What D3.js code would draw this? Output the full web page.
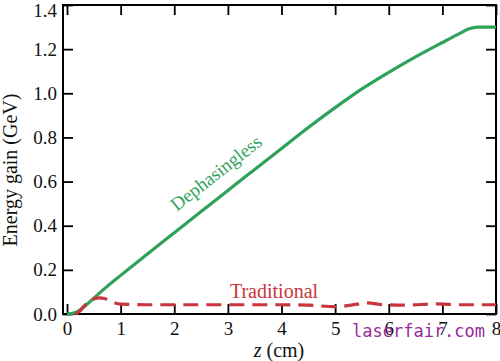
<!DOCTYPE html>
<html><head><meta charset="utf-8">
<script src="https://cdn.jsdelivr.net/npm/d3@7"></script>
<style>body{margin:0;background:#fff}svg{display:block}</style>
</head><body>
<script>
const xTicks = [0,1,2,3,4,5,6,7,8];
const yTicks = [0.0,0.2,0.4,0.6,0.8,1.0,1.2,1.4];
const greenZ = [0,0.1,0.2,0.3,0.4,0.5,0.7,1,1.5,2,2.5,3,3.5,4,4.5,5,5.5,6,6.5,7,7.3,7.5,7.65,8];
const greenE = [0,0.003,0.012,0.03,0.05,0.072,0.115,0.175,0.272,0.368,0.464,0.56,0.655,0.75,0.845,0.935,1.02,1.095,1.165,1.23,1.268,1.292,1.30,1.30];
const redZ = [0.15,0.25,0.3,0.4,0.5,0.6,0.7,0.8,0.9,1.0,1.5,2,3,4,4.5,5,5.3,5.6,5.9,6.3,6.9,7.3,8];
const redE = [0,0.015,0.03,0.055,0.068,0.073,0.07,0.06,0.05,0.045,0.042,0.042,0.042,0.042,0.04,0.033,0.04,0.05,0.042,0.04,0.046,0.042,0.042];

const W=500,H=361;
const svg=d3.select("body").append("svg").attr("width",W).attr("height",H);
const x=d3.scaleLinear().domain([-0.075,8]).range([63,496]);
const y=d3.scaleLinear().domain([0,1.4]).range([314,5]);
const font="'Liberation Serif','Times New Roman',serif";

const tl=10;
const axB=d3.axisBottom(x).tickValues(xTicks).tickSize(-tl).tickFormat(d=>d3.format("d")(d)).tickPadding(8);
const axT=d3.axisTop(x).tickValues(xTicks).tickSize(-tl).tickFormat("");
const axL=d3.axisLeft(y).tickValues(yTicks).tickSize(-tl).tickFormat(d3.format(".1f")).tickPadding(6);
const axR=d3.axisRight(y).tickValues(yTicks).tickSize(-tl).tickFormat("");
function style(g){g.select(".domain").remove();g.selectAll(".tick line").attr("stroke","#000").attr("stroke-width",1.8);
 g.selectAll("text").attr("font-family",font).attr("font-size",19).attr("fill","#111");}
svg.append("g").attr("transform","translate(0,314)").call(axB).call(style);
svg.append("g").attr("transform","translate(0,5)").call(axT).call(style);
const gl=svg.append("g").attr("transform","translate(63,0)").call(axL).call(style);
gl.selectAll(".tick text").filter(d=>d===1.4).attr("dy","0.62em");
svg.append("g").attr("transform","translate(496,0)").call(axR).call(style);
svg.append("rect").attr("x",63).attr("y",5).attr("width",433).attr("height",309)
 .attr("fill","none").attr("stroke","#000").attr("stroke-width",2);

const line=d3.line().x(d=>x(d[0])).y(d=>y(d[1])).curve(d3.curveMonotoneX);
svg.append("path").datum(greenZ.map((z,i)=>[z,greenE[i]])).attr("d",line)
 .attr("fill","none").attr("stroke","#2fa25a").attr("stroke-width",3.2);
svg.append("path").datum(redZ.map((z,i)=>[z,redE[i]])).attr("d",line)
 .attr("fill","none").attr("stroke","#c9343e").attr("stroke-width",3.2).attr("stroke-dasharray","15,8");

svg.append("text").attr("transform","translate(220,178) rotate(-38)").attr("text-anchor","middle")
 .attr("font-family",font).attr("font-size",19).attr("fill","#2fa25a").text("Dephasingless");
svg.append("text").attr("x",274).attr("y",298).attr("text-anchor","middle")
 .attr("font-family",font).attr("font-size",20).attr("fill","#c9343e").text("Traditional");

svg.append("text").attr("transform","translate(17,170) rotate(-90)").attr("text-anchor","middle")
 .attr("font-family",font).attr("font-size",20).attr("fill","#111").text("Energy gain (GeV)");
const xl=svg.append("text").attr("x",279).attr("y",357).attr("text-anchor","middle")
 .attr("font-family",font).attr("font-size",20).attr("fill","#111");
xl.append("tspan").attr("font-style","italic").text("z");
xl.append("tspan").text(" (cm)");

svg.append("text").attr("x",352).attr("y",337).attr("font-family","'DejaVu Sans Mono',monospace")
 .attr("font-size",17).attr("fill","#9a2a9a").text("laserfair.com");
</script>
</body></html>
